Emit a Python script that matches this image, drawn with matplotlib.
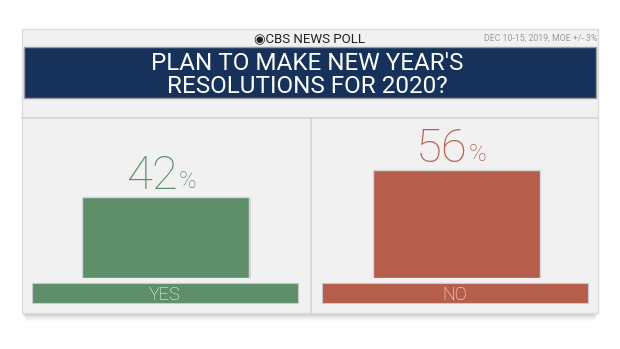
import matplotlib
matplotlib.use("Agg")
import matplotlib.pyplot as plt
from matplotlib.patches import Rectangle

# Poll results
categories = ["YES", "NO"]
values = [42, 56]
bar_colors = ["#5e8f6a", "#b55e4c"]
title_lines = ["PLAN TO MAKE NEW YEAR'S", "RESOLUTIONS FOR 2020?"]
brand = "CBS NEWS POLL"
source_note = "DEC 10-15, 2019, MOE +/- 3%"

W, H = 620, 349
fig = plt.figure(figsize=(W / 100, H / 100), dpi=100)
fig.patch.set_facecolor("white")

# Pixel-space canvas for the card layout
bg = fig.add_axes([0, 0, 1, 1])
bg.set_xlim(0, W)
bg.set_ylim(H, 0)
bg.axis("off")

FONT = ["Roboto", "DejaVu Sans"]

# card shadow
for i, a in enumerate([0.10, 0.07, 0.05, 0.03, 0.02]):
    bg.add_patch(Rectangle((22 + i, 306), 576 - 2 * i, 8 + 2 * i,
                           facecolor="#000000", alpha=a, lw=0, zorder=0))
# card
bg.add_patch(Rectangle((22, 29), 576, 284, facecolor="#f1f1f1",
                       edgecolor="#dcdcdc", lw=1, zorder=1))
# title banner
bg.add_patch(Rectangle((24, 47), 572, 51, facecolor="#16325a",
                       edgecolor="#9a9a9a", lw=1, zorder=2))
# dividers
bg.plot([22, 598], [117.5, 117.5], color="#d4d4d4", lw=1.2, zorder=2)
bg.plot([310.5, 310.5], [117.5, 313], color="#d4d4d4", lw=1.2, zorder=2)

# header
bg.text(310, 38.5, "\u25c9" + brand, ha="center", va="center", fontsize=9.5,
        color="#222222", family=FONT, zorder=3)
bg.text(597, 38.5, source_note, ha="right", va="center", fontsize=6.3,
        color="#9a9a9a", family=FONT, zorder=3)
bg.text(307, 70, title_lines[0], ha="center", va="baseline", fontsize=17.5,
        color="white", family=FONT, weight="normal", zorder=3)
bg.text(307, 93, title_lines[1], ha="center", va="baseline", fontsize=17.5,
        color="white", family=FONT, weight="normal", zorder=3)

# category label strips
strip_x = [32, 322]
for sx, cat, col in zip(strip_x, categories, bar_colors):
    bg.add_patch(Rectangle((sx, 283), 266, 20, facecolor=col,
                           edgecolor="#c9c9c9", lw=0.8, zorder=3))
    bg.text(sx + 133, 300, cat, ha="center", va="baseline", fontsize=13,
            color="white", family=FONT, weight="light", zorder=4)

# Bar axes: baseline at y=278 px, 1.93 px per percentage point
base_px, top_px = 278, 120
px_per_pt = 1.93
centers_px = [165.5, 456.0]
step = centers_px[1] - centers_px[0]
left_px, right_px = 22, 598
ax = fig.add_axes([left_px / W, (H - base_px) / H,
                   (right_px - left_px) / W, (base_px - top_px) / H])
ax.set_facecolor("none")
ax.set_xlim(-(centers_px[0] - left_px) / step, (right_px - centers_px[0]) / step)
ax.set_ylim(0, (base_px - top_px) / px_per_pt)
ax.axis("off")

xs = list(range(len(categories)))
# soft shadow behind bars
ax.bar([x + 0.006 for x in xs], values, width=167 / step, bottom=-1.2,
       color="#000000", alpha=0.12, lw=0, zorder=1)
ax.bar(xs, values, width=167 / step, color=bar_colors,
       edgecolor="#d6d6d6", lw=1, zorder=2)

for x, v, col in zip(xs, values, bar_colors):
    ax.annotate(f"{v}", (x, v), xytext=(12, 8), textcoords="offset pixels",
                ha="right", va="baseline", fontsize=34, color=col,
                family=FONT, weight="light", zorder=3)
    ax.annotate("%", (x, v), xytext=(13, 9), textcoords="offset pixels",
                ha="left", va="baseline", fontsize=17, color=col,
                family=FONT, weight="light", zorder=3)

fig.savefig("out.png", dpi=100, facecolor="white")
